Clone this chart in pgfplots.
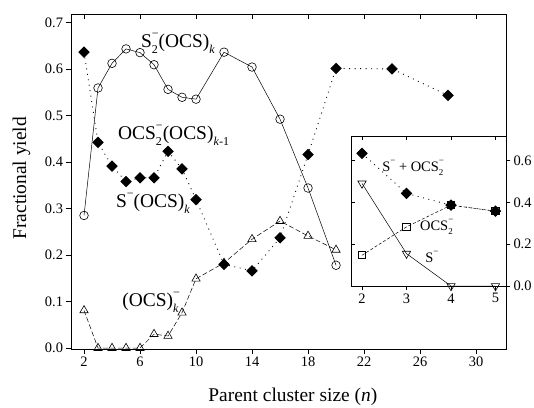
\documentclass[border=0pt]{standalone}
\usepackage{fontspec}
\setmainfont{Liberation Serif}
\usepackage{pgfplots}
\pgfplotsset{compat=1.18}

% sub/superscripts in text font
\newcommand{\sub}[1]{\raisebox{-0.3em}{\scalebox{0.62}{#1}}}
\newcommand{\sups}[1]{\raisebox{0.52em}{\scalebox{0.62}{#1}}}
\newcommand{\subsup}[2]{\makebox[0pt][l]{\sub{#1}}\sups{#2}}
\newcommand{\ticksize}{\fontsize{14.5}{16}\selectfont}
\newcommand{\labsize}{\fontsize{19.5}{23}\selectfont}
\newcommand{\insize}{\fontsize{14.5}{16}\selectfont}

\pgfplotsset{
  every axis/.append style={
    scale only axis,
    axis line style={line width=0.8bp},
    every tick/.style={line width=0.7bp, black},
    major tick length=4.5bp,
    tick label style={font=\ticksize},
    /pgf/number format/assume math mode=true,
  },
  circ/.style={solid, line width=0.5bp, mark=o, mark size=4.3bp,
    mark options={solid, fill=white, line width=0.6bp}},
  diam/.style={line width=0.9bp, dash pattern=on 0.9bp off 4.6bp,
    mark=square*, mark size=3.6bp, mark options={solid, rotate=45, fill=black}},
  tri/.style={line width=0.5bp, dash pattern=on 5bp off 2.5bp,
    mark=triangle, mark size=4.8bp, mark options={solid, fill=white, line width=0.6bp}},
}

\begin{document}
\begin{tikzpicture}
\path[use as bounding box] (-71bp,-59bp) rectangle (463bp,349bp);

% main axis
\begin{axis}[
  at={(0,0)}, anchor=south west,
  width=435bp, height=335bp,
  xmin=1.07, xmax=32.14,
  ymin=-0.002, ymax=0.718,
  xtick={2,6,...,30},
  ytick={0,0.1,...,0.7},
  xtick pos=left, ytick pos=left,
  tick align=outside,
  yticklabel style={/pgf/number format/fixed, /pgf/number format/fixed zerofill,
    /pgf/number format/precision=1},
  xlabel={Parent cluster size (\textit{n})},
  ylabel={Fractional yield},
  xlabel style={font=\labsize, at={(axis description cs:0.51,-0.142)}, anchor=center},
  ylabel style={font=\labsize, at={(axis description cs:-0.114,0.51)}, anchor=center, rotate=0},
]
  % OCS2-(OCS)k-1
  \addplot[diam] coordinates {
    (2,0.636) (3,0.442) (4,0.391) (5,0.358) (6,0.366) (7,0.366) (8,0.423)
    (9,0.385) (10,0.319) (12,0.180) (14,0.166) (16,0.237) (18,0.416)
    (20,0.601) (24,0.600) (28,0.543)};
  % S2-(OCS)k
  \addplot[circ] coordinates {
    (2,0.285) (3,0.559) (4,0.612) (5,0.643) (6,0.635) (7,0.609) (8,0.556)
    (9,0.539) (10,0.535) (12,0.636) (14,0.604) (16,0.492) (18,0.344) (20,0.178)};
  % (OCS)k-
  \addplot[tri] coordinates {
    (2,0.081) (3,0) (4,0) (5,0) (6,0) (7,0.030) (8,0.026)
    (9,0.076) (10,0.149) (12,0.183) (14,0.234) (16,0.273) (18,0.241) (20,0.211)};

  \node[font=\labsize] at (axis cs:8.71,0.655) {S\subsup{2}{−}(OCS)\sub{\textit{k}}};
  \node[font=\labsize] at (axis cs:8.4,0.457) {OCS\subsup{2}{−}(OCS)\sub{\textit{k}-1}};
  \node[font=\labsize] at (axis cs:6.93,0.311) {S\sups{−}(OCS)\sub{\textit{k}}};
  \node[font=\labsize] at (axis cs:6.8,0.099) {(OCS)\subsup{\textit{k}}{−}};
\end{axis}
% top ticks of main axis, inside
\begin{axis}[
  at={(0,0)}, anchor=south west,
  width=435bp, height=335bp,
  xmin=1.07, xmax=32.14, ymin=-0.002, ymax=0.718,
  xtick={2,6,...,30}, ytick=\empty,
  xtick pos=right, tick align=inside, xticklabels={},
  axis line style={draw=none},
]
\end{axis}

% inset
\begin{axis}[
  at={(280bp,63bp)}, anchor=south west,
  width=155bp, height=150bp,
  xmin=1.753, xmax=5.236,
  ymin=0, ymax=0.718,
  xtick={2,3,4,5},
  ytick={0,0.2,0.4,0.6},
  xtick pos=left, ytick pos=right,
  tick align=outside,
  major tick length=4bp,
  yticklabel style={/pgf/number format/fixed, /pgf/number format/fixed zerofill,
    /pgf/number format/precision=1},
  axis background/.style={fill=white},
]
  % S- + OCS2-
  \addplot[diam] coordinates {(2,0.635) (3,0.443) (4,0.387) (5,0.358)};
  % S-
  \addplot[solid, line width=0.5bp, mark=triangle, mark size=4.8bp,
    mark options={solid, rotate=180, fill=white, line width=0.6bp}]
    coordinates {(2,0.491) (3,0.155) (4,0) (5,0)};
  % OCS2-
  \addplot[line width=0.5bp, dash pattern=on 3bp off 2bp, mark=square, mark size=3.6bp,
    mark options={solid, fill=white, line width=0.9bp}]
    coordinates {(2,0.147) (3,0.283) (4,0.387) (5,0.358)};

  \node[font=\insize] at (axis cs:3.15,0.565) {S\sups{−} + OCS\subsup{2}{−}};
  \node[font=\insize] at (axis cs:3.68,0.282) {OCS\subsup{2}{−}};
  \node[font=\insize] at (axis cs:3.57,0.139) {S\sups{−}};
\end{axis}
% inset mirror ticks, inside
\begin{axis}[
  at={(280bp,63bp)}, anchor=south west,
  width=155bp, height=150bp,
  xmin=1.753, xmax=5.236, ymin=0, ymax=0.718,
  xtick={2,3,4,5}, ytick={0,0.2,0.4,0.6},
  xtick pos=right, ytick pos=left, tick align=inside,
  major tick length=4bp,
  xticklabels={}, yticklabels={},
  axis line style={draw=none},
]
\end{axis}
\end{tikzpicture}
\end{document}
